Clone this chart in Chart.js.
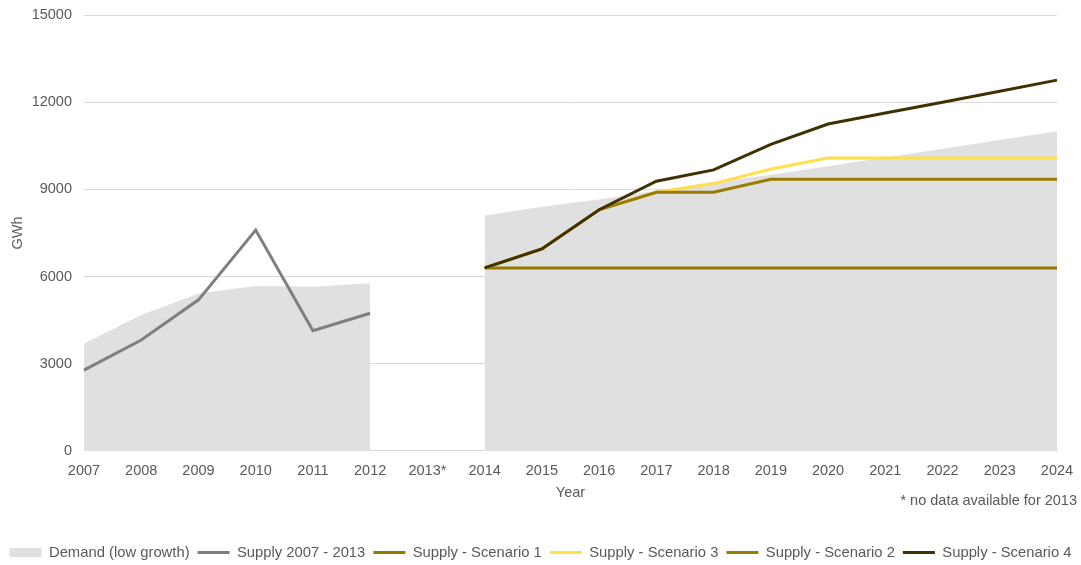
<!DOCTYPE html>
<html>
<head>
<meta charset="utf-8">
<title>Electricity demand and supply</title>
<script src="https://cdn.jsdelivr.net/npm/chart.js@4.4.1/dist/chart.umd.min.js"></script>
<style>
  html, body { margin: 0; padding: 0; background: #fff; }
  #wrap { width: 1081px; height: 565px; }
</style>
</head>
<body>
<div id="wrap"><canvas id="supplyChart"></canvas></div>
<script>
// ==================== DATA ====================
const years = ["2007", "2008", "2009", "2010", "2011", "2012", "2013*", "2014", "2015",
  "2016", "2017", "2018", "2019", "2020", "2021", "2022", "2023", "2024"];

const demandLow = [3700, 4680, 5420, 5680, 5650, 5770, null, 8100, 8400, 8650, 8950, 9250, 9500, 9800, 10100, 10400, 10700, 11000];
const supplyHistoric = [2780, 3820, 5200, 7600, 4140, 4740, null, null, null, null, null, null, null, null, null, null, null, null];
const scenario1 = [null, null, null, null, null, null, null, 6300, 6300, 6300, 6300, 6300, 6300, 6300, 6300, 6300, 6300, 6300];
const scenario3 = [null, null, null, null, null, null, null, 6300, 6950, 8300, 8900, 9200, 9700, 10080, 10080, 10080, 10080, 10080];
const scenario2 = [null, null, null, null, null, null, null, 6300, 6950, 8300, 8900, 8900, 9350, 9350, 9350, 9350, 9350, 9350];
const scenario4 = [null, null, null, null, null, null, null, 6300, 6950, 8300, 9280, 9670, 10550, 11250, 11630, 12000, 12380, 12760];

const yTicks = [0, 3000, 6000, 9000, 12000, 15000];
const footnote = "* no data available for 2013";

const textColor = "#595959";
const gridColor = "#d9d9d9";
const fontFamily = "'Liberation Sans', Arial, sans-serif";

// plot area edges (canvas pixels)
const plotTop = 15;
const plotRight = 24;
const plotLeft = 84;
const plotBottom = 451;
const canvasH = 565;
const legendShift = 5;

// ==================== HELPERS ====================
// drawOrder: lower values are painted on top
function lineSet(label, data, color, drawOrder) {
  return {
    label: label,
    data: data,
    borderColor: color,
    backgroundColor: color,
    borderWidth: 3,
    pointRadius: 0,
    pointHoverRadius: 0,
    fill: false,
    spanGaps: false,
    tension: 0,
    pointStyle: "line",
    order: drawOrder
  };
}

// footnote under the x axis, right aligned
const footnotePlugin = {
  id: "footnote",
  afterDraw(chart) {
    const ctx = chart.ctx;
    ctx.save();
    ctx.font = "14.5px " + fontFamily;
    ctx.fillStyle = textColor;
    ctx.textAlign = "right";
    ctx.textBaseline = "middle";
    ctx.fillText(footnote, 1077, 501);
    ctx.restore();
  }
};

// ==================== CHART ====================
const ctx = document.getElementById("supplyChart").getContext("2d");
new Chart(ctx, {
  type: "line",
  data: {
    labels: years,
    datasets: [
      {
        label: "Demand (low growth)",
        data: demandLow,
        borderWidth: 0,
        borderColor: "rgba(0,0,0,0)",
        backgroundColor: "#e0e0e0",
        pointRadius: 0,
        pointHoverRadius: 0,
        fill: "origin",
        spanGaps: false,
        tension: 0,
        pointStyle: "rect",
        order: 10
      },
      lineSet("Supply 2007 - 2013", supplyHistoric, "#7f7f7f", 4),
      lineSet("Supply - Scenario 1", scenario1, "#947800", 3),
      lineSet("Supply - Scenario 3", scenario3, "#ffe04a", 2),
      lineSet("Supply - Scenario 2", scenario2, "#9a7d00", 1),
      lineSet("Supply - Scenario 4", scenario4, "#3f3200", 0)
    ]
  },
  options: {
    responsive: true,
    maintainAspectRatio: false,
    animation: false,
    layout: { padding: { top: 0, right: 0, left: 0, bottom: -legendShift } },
    plugins: {
      tooltip: { enabled: false },
      legend: {
        position: "bottom",
        labels: {
          usePointStyle: true,
          pointStyleWidth: 32,
          boxWidth: 32,
          boxHeight: 9,
          padding: 8,
          color: textColor,
          font: { family: fontFamily, size: 14.8 },
          sort: (a, b) => a.datasetIndex - b.datasetIndex
        }
      }
    },
    scales: {
      x: {
        type: "category",
        offset: false,
        grid: { display: false, drawTicks: false },
        border: { color: gridColor, width: 1 },
        ticks: {
          color: textColor,
          padding: 11,
          maxRotation: 0,
          autoSkip: false,
          font: { family: fontFamily, size: 14.5 }
        },
        title: {
          display: true,
          text: "Year",
          color: textColor,
          font: { family: fontFamily, size: 14.5 },
          padding: { top: 4, bottom: 36 }
        },
        afterFit(scale) {
          const legendH = scale.chart.legend ? scale.chart.legend.height : 34;
          scale.height = canvasH + legendShift - legendH - plotBottom;
          scale.paddingLeft = 0;
          scale.paddingRight = plotRight;
        }
      },
      y: {
        min: 0,
        max: 15000,
        afterBuildTicks(scale) {
          scale.ticks = yTicks.map(v => ({ value: v }));
        },
        grid: { color: gridColor, drawTicks: false, lineWidth: 1 },
        border: { display: false },
        ticks: {
          color: textColor,
          padding: 12,
          font: { family: fontFamily, size: 14.5 },
          callback: value => String(value)
        },
        title: {
          display: true,
          text: "GWh",
          color: textColor,
          font: { family: fontFamily, size: 14.5 },
          padding: { top: 9, bottom: 0 }
        },
        afterFit(scale) {
          scale.width = plotLeft;
          scale.paddingTop = plotTop;
          scale.paddingBottom = 0;
        }
      }
    }
  },
  plugins: [footnotePlugin]
});
</script>
</body>
</html>
